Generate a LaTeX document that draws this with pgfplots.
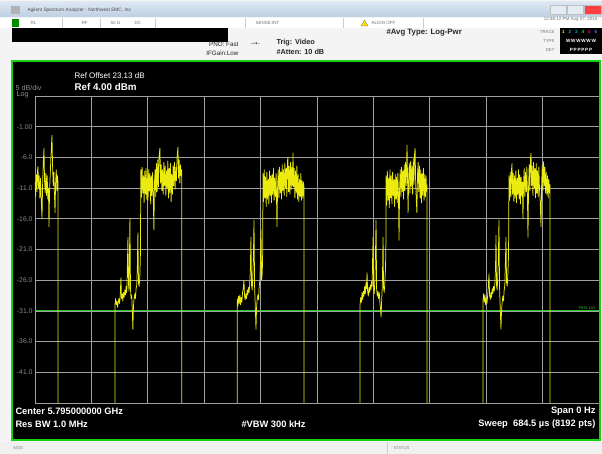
\documentclass[border=0pt]{standalone}
\usepackage{fontspec}
\setmainfont{Liberation Sans}
\newfontfamily\dejavu{DejaVu Sans}
\usepackage{pgfplots}
\pgfplotsset{compat=1.18}

\definecolor{gridgray}{RGB}{160,160,160}
\definecolor{trace}{RGB}{235,235,15}
\definecolor{scrgreen}{RGB}{20,210,20}
\definecolor{trig}{RGB}{40,200,40}
\definecolor{titletop}{RGB}{220,231,243}
\definecolor{titlebot}{RGB}{190,207,226}
\definecolor{panel}{RGB}{244,244,244}
\definecolor{lbl}{RGB}{140,140,140}

\begin{document}
\begin{tikzpicture}
\path[use as bounding box] (0pt,0pt) rectangle (602pt,454pt);
% frame, in screen pixels (y downwards)
\begin{scope}[x=1pt, y=1pt, yshift=454pt, yscale=-1]
\fill[panel] (0,0) rectangle (602,454);
\shade[top color=titletop, bottom color=titlebot] (0,2) rectangle (602,17);
\fill[gray!60] (11,6) rectangle (20,14);
\node[anchor=west, font=\fontsize{4.8}{5}\selectfont, text=black!70] at (24,10) {Agilent Spectrum Analyzer - Northwest EMC, Inc};
\fill[titletop!80!white, draw=gray!50] (550,5) rectangle (566,14);
\fill[titletop!80!white, draw=gray!50] (567,5) rectangle (583,14);
\fill[red!75!white, draw=gray!50] (584,5) rectangle (601,14);
% status row
\fill[white] (0,18) rectangle (602,28);
\fill[green!55!black] (12,19) rectangle (19,27);
\foreach \sx in {62,100,155,245,343,423} {\draw[gray!40] (\sx,18) -- (\sx,28);}
\begin{scope}[font=\fontsize{4.5}{5}\selectfont, text=black!55]
\node[anchor=west] at (27,23) {RL};
\node[anchor=west] at (78,23) {RF};
\node[anchor=west] at (107,23) {50 Ω};
\node[anchor=west] at (131,23) {DC};
\node[anchor=west] at (252,23) {SENSE:INT};
\node[anchor=west] at (368,23) {ALIGN OFF};
\node[anchor=east] at (601,19) {12:46:12 PM Aug 07, 2015};
\end{scope}
\fill[yellow!80!orange, draw=black!60, line width=0.2pt] (361,26) -- (364.5,20) -- (368,26) -- cycle;
% redacted bar
\fill[black] (12,28) rectangle (228,42);
% settings
\node[anchor=east, font=\fontsize{6.3}{7}\selectfont, text=black!85] at (242,44) {PNO: Fast};
\node[anchor=east, font=\fontsize{6.3}{7}\selectfont, text=black!85] at (242,53) {IFGain:Low};
\node[anchor=west, font=\dejavu\fontsize{6}{7}\selectfont, text=black!80] at (247,44) {-→-};
\node[anchor=west, font=\fontsize{7.3}{8}\selectfont\bfseries, text=black!85] at (273,43) {Trig: Video};
\node[anchor=west, font=\fontsize{7.3}{8}\selectfont\bfseries, text=black!85] at (273,52) {\#Atten: 10 dB};
\node[anchor=west, font=\fontsize{7.8}{8}\selectfont\bfseries, text=black!85] at (383,33) {\#Avg Type: Log-Pwr};
\begin{scope}[font=\fontsize{4.3}{5}\selectfont, text=black!55]
\node[anchor=east] at (558,32) {TRACE};
\node[anchor=east] at (558,41) {TYPE};
\node[anchor=east] at (558,50) {DET};
\end{scope}
\fill[black] (560,28) rectangle (602,54);
\begin{scope}[font=\fontsize{4.6}{5}\selectfont\bfseries]
\node[text=yellow] at (563.5,32) {1};
\node[text=cyan] at (570,32) {2};
\node[text=cyan!60!green] at (576.5,32) {3};
\node[text=green] at (583,32) {4};
\node[text=magenta] at (589.5,32) {5};
\node[text=blue!60!white] at (596,32) {6};
\node[text=white] at (581,41) {W\,W\,W\,W\,W\,W};
\node[text=white] at (581,50) {P\,P\,P\,P\,P\,P};
\end{scope}
% instrument screen
\fill[black] (12,61) rectangle (600,440);
\node[anchor=west, font=\fontsize{8}{9}\selectfont, text=white] at (71,76) {Ref Offset 23.13 dB};
\node[anchor=west, font=\fontsize{9.8}{10}\selectfont\bfseries, text=white] at (71,87) {Ref 4.00 dBm};
\node[anchor=west, font=\fontsize{7.2}{8}\selectfont, text=lbl] at (12,88) {5 dB/div};
\node[anchor=west, font=\fontsize{7.2}{8}\selectfont, text=lbl] at (13,95) {Log};
\end{scope}

\begin{axis}[
    at={(35pt,51pt)}, anchor=south west,
    scale only axis, width=564pt, height=307pt,
    xmin=0, xmax=684.5, ymin=-46, ymax=4,
    axis background/.style={fill=black},
    axis line style={draw=gridgray, line width=0.75pt},
    grid=major,
    major grid style={draw=gridgray, line width=0.75pt},
    tick style={draw=none},
    xtick={68.45,136.9,205.35,273.8,342.25,410.7,479.15,547.6,616.05},
    xticklabels={},
    ytick={-41,-36,-31,-26,-21,-16,-11,-6,-1},
    yticklabels={-41.0,-36.0,-31.0,-26.0,-21.0,-16.0,-11.0,-6.0,-1.00},
    yticklabel style={font=\fontsize{6.8}{7}\selectfont, text=lbl, xshift=1pt},
]
\addplot[trig, line width=0.9pt] coordinates {(0,-31) (684.5,-31)};
\addplot[trace, line width=0.75pt, line join=round] coordinates {
(0.0,-10.0) (0.8,-12.4) (1.6,-8.8) (2.4,-11.6) (3.0,-8.2) (3.6,-7.5) (4.3,-11.0) (5.1,-9.0) (5.9,-12.6) (6.7,-9.4) (7.6,-13.0) (8.5,-16.0) (9.2,-10.6) (10.0,-7.0) (10.9,-4.5) (11.6,-9.8) (12.4,-11.8) (13.2,-8.6) (14.0,-12.2) (14.8,-9.0) (15.6,-12.8) (16.3,-11.0) (17.0,-17.3) (17.7,-11.4) (18.5,-8.8) (19.3,-6.0) (20.0,-4.0) (20.6,-2.4) (21.3,-7.2) (22.1,-10.6) (22.9,-8.4) (23.6,-12.0) (24.3,-15.0) (25.0,-10.2) (25.8,-8.0) (26.6,-11.4) (27.3,-9.0) (27.9,-10.0) (27.9,-75)
(97.0,-75) (97.0,-30.2) (97.8,-29.0) (98.6,-30.0) (99.4,-29.4) (100.2,-30.4) (101.0,-29.6) (101.8,-29.0) (102.6,-29.8) (103.4,-28.6) (104.3,-25.6) (105.0,-29.0) (105.8,-28.2) (106.6,-29.4) (107.4,-28.0) (108.2,-28.8) (109.0,-27.6) (109.8,-28.4) (110.6,-27.0) (111.4,-28.0) (112.0,-24.5) (112.8,-19.0) (113.4,-26.5) (114.2,-27.8) (115.2,-15.9) (115.9,-27.5) (116.6,-29.0) (117.4,-28.4) (118.1,-31.0) (118.8,-34.0) (119.5,-30.2) (120.3,-29.0) (121.1,-28.2) (121.9,-29.0) (122.7,-27.4) (123.5,-26.8) (124.2,-24.0) (124.9,-18.3) (125.6,-26.5) (126.4,-27.0) (127.2,-25.5) (127.9,-22.0)
(128.5,-8.0) (129.2,-12.5) (130.0,-7.6) (130.8,-11.8) (131.6,-9.0) (132.4,-13.4) (133.2,-8.2) (134.0,-12.0) (134.8,-7.8) (135.6,-12.8) (136.4,-9.4) (137.2,-13.0) (138.0,-8.0) (138.8,-11.5) (139.6,-8.6) (140.4,-13.6) (141.2,-9.0) (142.0,-12.2) (142.8,-8.4) (143.6,-13.0) (144.3,-17.8) (145.0,-10.0) (145.8,-8.0) (146.6,-12.4) (147.4,-7.0) (148.2,-11.6) (149.0,-6.4) (149.8,-10.8) (150.6,-5.8) (151.6,-4.5) (152.4,-10.2) (153.2,-7.2) (154.0,-11.4) (154.8,-8.0) (155.6,-12.0) (156.4,-6.8) (157.2,-10.6) (158.0,-7.4) (158.8,-12.2) (159.6,-8.2) (160.4,-11.0) (161.2,-6.6) (162.0,-12.6) (162.8,-7.8) (163.6,-11.8) (164.4,-7.0) (165.2,-13.2) (166.0,-8.8) (166.8,-12.0) (167.6,-7.4) (168.4,-10.6) (169.2,-6.8) (170.0,-11.2) (170.8,-7.6) (171.6,-9.8) (172.4,-6.0) (173.5,-4.3) (174.2,-9.4) (175.0,-6.4) (175.8,-10.2) (176.6,-7.2) (177.4,-9.0) (178.0,-8.0) (178.0,-75)
(245.5,-75) (245.5,-29.0) (246.3,-30.2) (247.1,-28.6) (247.9,-29.8) (248.7,-28.4) (249.5,-30.0) (250.3,-28.8) (251.1,-29.6) (251.9,-28.0) (252.7,-27.4) (253.6,-26.0) (254.3,-28.6) (255.1,-29.2) (255.9,-28.2) (256.7,-29.0) (257.5,-27.6) (258.3,-28.4) (259.1,-27.2) (259.9,-28.0) (260.7,-26.4) (261.4,-24.0) (262.1,-19.0) (262.8,-26.8) (263.6,-27.6) (264.4,-25.0) (265.1,-22.0) (265.8,-16.2) (266.5,-27.0) (267.3,-30.0) (268.2,-34.0) (268.9,-30.5) (269.7,-29.0) (270.5,-28.4) (271.3,-29.2) (272.1,-27.0) (272.9,-26.2) (273.6,-23.0) (274.3,-17.8) (275.0,-26.0) (275.8,-25.0) (276.4,-21.0)
(276.7,-8.6) (277.4,-13.2) (278.2,-8.0) (279.0,-12.6) (279.8,-9.2) (280.6,-14.0) (281.4,-8.4) (282.2,-12.8) (283.0,-9.6) (283.8,-13.6) (284.6,-8.2) (285.4,-12.2) (286.2,-9.0) (287.0,-13.4) (287.8,-8.8) (288.6,-12.0) (289.4,-7.8) (290.2,-13.0) (291.0,-9.4) (291.8,-12.4) (292.6,-8.6) (293.7,-17.3) (294.4,-11.0) (295.2,-8.0) (296.0,-12.6) (296.8,-7.6) (297.6,-11.8) (298.4,-8.4) (299.2,-12.8) (300.0,-7.2) (300.8,-11.4) (301.6,-8.0) (302.4,-12.2) (303.2,-7.0) (304.0,-11.0) (304.8,-7.8) (305.6,-12.4) (306.4,-6.6) (307.0,-6.0) (307.8,-11.6) (308.6,-7.4) (309.4,-12.0) (310.2,-6.8) (311.0,-11.2) (311.8,-7.6) (312.6,-10.6) (313.1,-5.3) (313.8,-10.8) (314.6,-7.8) (315.4,-12.6) (316.2,-8.2) (317.0,-11.8) (317.8,-7.4) (318.6,-12.8) (319.4,-8.8) (320.2,-13.2) (321.0,-9.6) (321.8,-12.4) (322.6,-8.6) (323.4,-13.0) (324.2,-9.8) (325.0,-12.6) (325.8,-10.0) (326.5,-11.0) (326.5,-75)
(394.5,-75) (394.5,-30.0) (395.3,-28.8) (396.1,-29.6) (396.9,-28.0) (397.7,-29.2) (398.5,-27.8) (399.3,-28.6) (400.1,-27.0) (400.9,-28.2) (401.7,-26.4) (402.3,-27.4) (403.0,-24.8) (403.7,-27.8) (404.5,-28.6) (405.3,-27.2) (406.1,-28.0) (406.9,-26.8) (407.7,-27.6) (408.5,-26.2) (409.2,-27.0) (409.8,-22.0) (410.3,-19.0) (410.9,-27.0) (411.7,-28.2) (412.5,-26.0) (413.2,-22.0) (413.9,-16.2) (414.6,-27.4) (415.4,-28.6) (416.2,-27.8) (417.0,-29.0) (417.8,-28.0) (418.6,-29.6) (419.3,-30.6) (420.0,-32.0) (420.7,-29.4) (421.5,-27.0) (422.0,-23.0) (422.4,-19.0) (423.0,-27.2) (423.8,-28.0) (424.6,-26.4) (425.4,-24.0) (425.9,-20.0)
(426.1,-9.0) (426.8,-13.8) (427.6,-8.2) (428.4,-13.0) (429.2,-9.4) (430.0,-14.2) (430.8,-8.0) (431.6,-12.6) (432.4,-9.0) (433.2,-13.6) (434.0,-8.4) (434.8,-12.2) (435.6,-9.6) (436.4,-14.0) (437.2,-8.8) (438.0,-12.8) (438.8,-9.2) (439.6,-13.4) (440.4,-8.6) (441.1,-12.0) (441.8,-19.5) (442.5,-11.0) (443.3,-8.0) (444.1,-12.4) (444.9,-7.6) (445.7,-11.6) (446.5,-8.2) (447.3,-12.8) (448.1,-7.2) (448.9,-11.4) (449.7,-6.8) (450.5,-10.6) (451.5,-4.0) (452.2,-10.0) (452.8,-15.0) (453.5,-9.2) (454.3,-7.0) (455.1,-11.8) (455.9,-6.6) (456.7,-10.8) (457.5,-7.4) (458.3,-12.0) (459.1,-6.2) (459.9,-10.4) (460.6,-5.6) (461.3,-4.5) (462.0,-10.2) (462.8,-13.0) (463.5,-15.0) (464.2,-9.0) (465.0,-6.8) (465.8,-11.6) (466.6,-7.4) (467.4,-12.6) (468.2,-8.0) (469.0,-13.4) (469.8,-8.6) (470.6,-12.2) (471.4,-7.8) (472.2,-13.0) (473.0,-8.8) (473.8,-12.4) (474.6,-9.0) (475.3,-11.6) (475.8,-10.5) (475.8,-75)
(543.7,-75) (543.7,-29.4) (544.5,-28.2) (545.3,-29.6) (546.1,-28.4) (546.9,-30.0) (547.7,-29.0) (548.5,-29.8) (549.3,-28.6) (550.2,-27.0) (551.0,-25.0) (551.7,-28.4) (552.5,-29.2) (553.3,-28.0) (554.1,-28.8) (554.9,-27.4) (555.7,-28.2) (556.5,-27.0) (557.3,-27.8) (558.1,-26.6) (558.9,-24.0) (559.5,-18.7) (560.1,-26.8) (560.9,-27.6) (561.7,-25.2) (562.4,-22.0) (563.1,-16.2) (563.8,-27.2) (564.6,-30.4) (565.5,-34.0) (566.2,-31.0) (567.0,-29.6) (567.8,-28.6) (568.6,-29.4) (569.4,-27.6) (570.2,-26.8) (570.9,-23.0) (571.6,-19.0) (572.3,-26.4) (573.1,-27.0) (573.9,-25.0) (574.7,-22.0)
(575.3,-9.0) (576.0,-13.0) (576.8,-8.4) (577.6,-12.4) (578.3,-8.0) (578.9,-7.0) (579.6,-12.0) (580.4,-8.6) (581.2,-13.2) (582.0,-9.0) (582.8,-12.6) (583.6,-8.2) (584.4,-13.4) (585.2,-9.4) (586.0,-12.0) (586.8,-8.0) (587.6,-12.8) (588.4,-8.8) (589.2,-13.6) (590.0,-9.2) (590.8,-12.2) (591.5,-10.0) (592.2,-16.0) (592.9,-10.4) (593.7,-7.8) (594.5,-12.4) (595.3,-8.4) (596.1,-11.6) (596.9,-7.6) (597.6,-12.0) (598.3,-19.0) (599.0,-11.0) (599.8,-7.2) (600.6,-11.4) (601.3,-6.4) (602.0,-5.3) (602.7,-10.6) (603.5,-7.4) (604.3,-12.2) (605.1,-6.8) (605.9,-11.0) (606.7,-7.8) (607.5,-12.6) (608.3,-7.0) (609.1,-11.8) (609.9,-8.2) (610.7,-12.4) (611.5,-7.6) (612.3,-11.2) (613.2,-13.4) (614.1,-17.3) (614.8,-10.8) (615.6,-7.2) (616.4,-11.4) (617.2,-6.7) (618.0,-10.6) (618.8,-7.6) (619.6,-11.8) (620.4,-8.4) (621.2,-12.0) (622.0,-9.0) (622.8,-12.6) (623.6,-9.6) (624.4,-11.8) (625.0,-10.4) (625.0,-75)
(684.5,-75)
};
\node[anchor=south east, font=\fontsize{4}{4}\selectfont, text=trig, inner sep=1pt] at (axis cs:682,-31) {TRIG LVL};
\end{axis}

\begin{scope}[x=1pt, y=1pt, yshift=454pt, yscale=-1]
\draw[scrgreen, line width=1.8pt] (12,61) rectangle (600,440);
% lower info lines
\begin{scope}[font=\fontsize{9.3}{10}\selectfont\bfseries, text=white]
\node[anchor=west] at (12,411) {Center 5.795000000 GHz};
\node[anchor=west] at (12,424) {Res BW 1.0 MHz};
\node[anchor=west] at (238,424) {\#VBW 300 kHz};
\node[anchor=east] at (599,411) {Span 0 Hz};
\node[anchor=east] at (599,424) {Sweep \ 684.5 µs (8192 pts)};
\end{scope}
% message bar
\fill[gray!12] (0,442) rectangle (602,454);
\draw[gray!40] (387,442) -- (387,454);
\node[anchor=west, font=\fontsize{4.2}{5}\selectfont, text=black!50] at (10,448) {MSG};
\node[anchor=west, font=\fontsize{4.2}{5}\selectfont, text=black!50] at (390,448) {STATUS};
\end{scope}
\end{tikzpicture}
\end{document}
